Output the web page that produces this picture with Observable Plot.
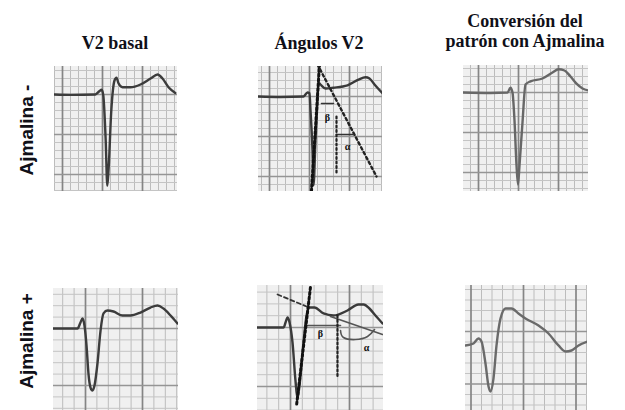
<!DOCTYPE html>
<html><head><meta charset="utf-8">
<script src="https://cdn.jsdelivr.net/npm/d3@7"></script>
<script src="https://cdn.jsdelivr.net/npm/@observablehq/plot@0.6"></script>
<style>
body{margin:0;background:#fff;}
#root{position:relative;width:625px;height:410px;overflow:hidden;}
.title{position:absolute;font-family:"Liberation Serif","Times New Roman",serif;font-weight:bold;font-size:18px;color:#101018;text-align:center;white-space:nowrap;transform:translateX(-50%);line-height:20px}
.row{position:absolute;font-family:"Liberation Sans",Arial,sans-serif;font-weight:bold;font-size:19px;color:#101018;transform:translate(-50%,-50%) rotate(-90deg);white-space:nowrap}
.panel{position:absolute}
</style></head>
<body><div id="root"></div>
<script>
// ---- Titles / labels ----
const columnTitles = ["V2 basal", "Ángulos V2", "Conversión del<br>patrón con Ajmalina"];
const rowLabels = ["Ajmalina -", "Ajmalina +"];
const angleLabels = ["β", "α"];

// ---- Traces (t in mm = small squares, v in mm above reference line) ----
// Ajmalina - , V2 basal
const negBasalT = [-1, 1, 4.1, 4.6, 4.9, 5.1, 5.4, 5.6, 5.75, 6.1, 6.5, 6.75, 7.0, 7.5, 8.5, 9.75, 11.0, 11.9, 12.5, 13.25, 14.1];
const negBasalV = [0, -0.05, 0, 0.4, 0.6, -0.1, -5.75, -11.4, -9.5, -2, 1.75, 2.1, 1.4, 0.9, 0.9, 1.25, 2.0, 2.5, 2.0, 0.9, 0.2];
// Ajmalina - , Ángulos V2
const negAngT = [-6.375, -3.625, -0.75, -0.25, 0, 0.125, 0.375, 0.5, 0.75, 1.0, 1.125, 1.375, 2.0, 3.0, 4.75, 6.125, 7.0, 7.5, 8.125, 9.125];
const negAngV = [0, -0.06, 0, 0.5, 0.4, -1.75, -6.75, -11.1, -5.5, -0.5, 1.75, 1.5, 1.0, 1.1, 1.4, 2.1, 2.4, 2.25, 1.5, 0.4];
// Ajmalina - , Conversión
const negConvT = [-6.875, -3.5, -1.375, -1.0, -0.75, -0.5, -0.25, -0.06, 0.125, 0.5, 0.875, 1.5, 3.0, 4.25, 5.0, 5.75, 6.5, 7.25, 8.0, 8.75];
const negConvV = [0, -0.06, 0, 0.6, 0, -3.5, -9.1, -11.5, -9.1, -3.75, 1.0, 1.4, 1.75, 2.5, 2.9, 2.75, 2.0, 1.1, 0.5, 0.25];
// Ajmalina + , V2 basal
const posBasalT = [-2.81, -0.70, -0.44, -0.26, -0.09, 0.09, 0.26, 0.44, 0.61, 0.79, 1.05, 1.32, 1.58, 1.93, 2.46, 3.25, 3.95, 4.82, 5.70, 6.32, 6.84, 7.46, 8.07];
const posBasalV = [0, 0, 0.53, 0.88, 0.26, -1.49, -3.95, -5.18, -5.44, -5.0, -3.07, -0.18, 1.32, 1.58, 1.49, 1.14, 1.14, 1.40, 1.84, 2.02, 1.75, 1.14, 0.44];
// Ajmalina + , Ángulos V2
const posAngT = [-2.80, -0.59, -0.42, -0.25, -0.08, 0.17, 0.42, 0.59, 0.76, 1.10, 1.36, 1.61, 2.03, 2.80, 3.64, 4.83, 5.76, 6.19, 6.69, 7.20, 7.80];
const posAngV = [0, 0, 0.42, 0.85, 0.42, -1.27, -4.49, -6.02, -4.92, -1.27, 1.02, 1.69, 1.69, 1.19, 1.02, 1.44, 1.95, 1.95, 1.61, 1.02, 0.34];
// Ajmalina + , Conversión
const posConvT = [-5.52, -4.76, -4.29, -4.0, -3.62, -3.33, -3.14, -2.86, -2.57, -2.19, -1.71, -1.14, -0.48, 0.19, 1.43, 2.38, 3.33, 4.0, 4.57, 5.24, 6.10];
const posConvV = [-1.33, -1.14, -0.67, -0.95, -3.05, -5.24, -5.71, -4.48, -1.33, 1.24, 2.19, 2.19, 1.71, 1.24, 0.57, -0.19, -1.33, -1.90, -1.81, -1.33, -0.95];

// ---- Angle construction lines ----
// top (Ajmalina -)
const negDotT = [1.25, 0.25],   negDotV = [4, -11.75];
const negDiagT = [1.0, 8.375],  negDiagV = [4, -10];
const negBetaT = [1.5, 3.0],    negBetaV = [-0.875, -0.875];
const negAlphaT = [3.375, 5.5], negAlphaV = [-4.75, -4.75];
const negVertT = [3.375, 3.375], negVertV = [-2.5, -9.6];
const negLabelT = [2.25, 4.75], negLabelV = [-2.6, -6.25];
// bottom (Ajmalina +)
const posDotT = [1.69, 0.51],   posDotV = [3.39, -6.61];
const posDashT = [-1.10, 1.36], posDashV = [2.80, 1.78];
const posL1T = [1.27, 4.24],    posL1V = [0.17, 0.17];
const posL2T = [3.39, 7.80],    posL2V = [0.93, -0.59];
const posArcT = [4.24, 4.49, 5.51, 6.53, 7.12], posArcV = [-0.25, -0.85, -1.02, -0.76, -0.17];
const posVertT = [3.98, 3.98],  posVertV = [1.02, -4.24];
const posLabelT = [2.54, 6.44], posLabelV = [-0.51, -1.69];

const pts = (ts, vs) => ts.map((t, i) => ({t, v: vs[i]}));

function panel(cfg, marks) {
  const {w, h, s, ox, oy} = cfg;
  const x0 = -ox / s, x1 = (w - ox) / s;
  const y1 = oy / s, y0 = -(h - oy) / s;
  const xs = d3.range(Math.ceil(x0), x1 + 1e-9, 1);
  const ys = d3.range(Math.ceil(y0), y1 + 1e-9, 1);
  const minorX = xs.filter(d => d % 5 !== 0), majorX = xs.filter(d => d % 5 === 0);
  const minorY = ys.filter(d => d % 5 !== 0), majorY = ys.filter(d => d % 5 === 0);
  const svg = Plot.plot({
    width: w, height: h, margin: 0,
    x: {domain: [x0, x1], axis: null},
    y: {domain: [y0, y1], axis: null},
    style: {background: "#f0f0f0", overflow: "hidden"},
    marks: [
      Plot.ruleX(minorX, {stroke: "#bcbcbc", strokeWidth: 1}),
      Plot.ruleY(minorY, {stroke: "#c4c4c4", strokeWidth: 1}),
      Plot.ruleX(majorX, {stroke: "#858585", strokeWidth: 1.7}),
      Plot.ruleY(majorY, {stroke: "#959595", strokeWidth: 1.5}),
      ...marks
    ]
  });
  svg.classList.add("panel");
  svg.style.left = cfg.left + "px";
  svg.style.top = cfg.top + "px";
  document.getElementById("root").appendChild(svg);
}

const trace = (data, color) => Plot.line(data, {x: "t", y: "v", stroke: color, strokeWidth: 2.4, curve: "monotone-x", clip: true, strokeLinejoin: "round"});
const seg = (data, opts) => Plot.line(data, {x: "t", y: "v", clip: true, ...opts});
const labels = (ts, vs) => Plot.text(ts.map((t, i) => ({t, v: vs[i], s: angleLabels[i]})), {x: "t", y: "v", text: "s", fontSize: 10, fontWeight: "bold", fill: "#111", fontFamily: "Liberation Serif, serif"});

// top row
panel({left: 54, top: 66, w: 123, h: 125, s: 8, ox: 8, oy: 28}, [trace(pts(negBasalT, negBasalV), "#3c3c3c")]);
panel({left: 258, top: 66, w: 124, h: 125, s: 8, ox: 51, oy: 30}, [
  trace(pts(negAngT, negAngV), "#3a3a3a"),
  seg(pts(negDotT, negDotV), {stroke: "#111", strokeWidth: 3, strokeDasharray: "2.2,2.6"}),
  seg(pts(negDiagT, negDiagV), {stroke: "#222", strokeWidth: 2.4, strokeDasharray: "2.5,3"}),
  seg(pts(negBetaT, negBetaV), {stroke: "#333", strokeWidth: 1.6}),
  seg(pts(negAlphaT, negAlphaV), {stroke: "#333", strokeWidth: 1.6}),
  seg(pts(negVertT, negVertV), {stroke: "#222", strokeWidth: 2.2, strokeDasharray: "2,2.5"}),
  labels(negLabelT, negLabelV)
]);
panel({left: 463, top: 65, w: 125, h: 126, s: 8, ox: 55, oy: 27}, [trace(pts(negConvT, negConvV), "#676767")]);

// bottom row
panel({left: 53, top: 288, w: 125, h: 122, s: 11.4, ox: 32, oy: 40}, [trace(pts(posBasalT, posBasalV), "#3c3c3c")]);
panel({left: 257, top: 285, w: 126, h: 125, s: 11.8, ox: 33, oy: 42}, [
  trace(pts(posAngT, posAngV), "#3a3a3a"),
  seg(pts(posL1T, posL1V), {stroke: "#555", strokeWidth: 1.6}),
  seg(pts(posL2T, posL2V), {stroke: "#555", strokeWidth: 1.6}),
  seg(pts(posArcT, posArcV), {stroke: "#555", strokeWidth: 1.6, curve: "natural"}),
  seg(pts(posDotT, posDotV), {stroke: "#111", strokeWidth: 3, strokeDasharray: "2.2,2.6"}),
  seg(pts(posDashT, posDashV), {stroke: "#333", strokeWidth: 1.8, strokeDasharray: "4,3"}),
  seg(pts(posVertT, posVertV), {stroke: "#222", strokeWidth: 2.2, strokeDasharray: "2,2.5"}),
  labels(posLabelT, posLabelV)
]);
panel({left: 465, top: 285, w: 122, h: 125, s: 10.5, ox: 58, oy: 46}, [trace(pts(posConvT, posConvV), "#6a6a6a")]);

// titles
const root = document.getElementById("root");
const titlePos = [[115, 33], [319, 33], [525, 11]];
columnTitles.forEach((t, i) => {
  const d = document.createElement("div");
  d.className = "title"; d.innerHTML = t;
  d.style.left = titlePos[i][0] + "px"; d.style.top = titlePos[i][1] + "px";
  root.appendChild(d);
});
const rowPos = [[27, 130], [27, 341]];
rowLabels.forEach((t, i) => {
  const d = document.createElement("div");
  d.className = "row"; d.textContent = t;
  d.style.left = rowPos[i][0] + "px"; d.style.top = rowPos[i][1] + "px";
  root.appendChild(d);
});
</script>
</body></html>
